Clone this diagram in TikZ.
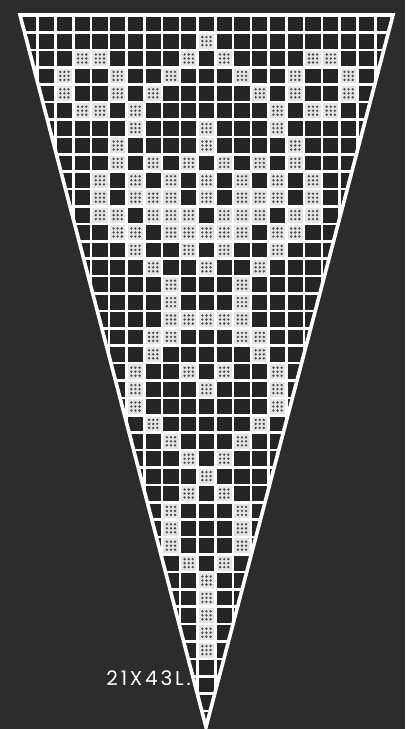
\documentclass[tikz,border=0pt]{standalone}
\usepackage{fontspec}
\newfontfamily\labelfont[LetterSpace=14]{Poppins}
\definecolor{bg}{HTML}{2C2C2C}
\definecolor{cellc}{HTML}{252525}
\definecolor{mesh}{HTML}{E4E4E4}
\definecolor{dotc}{HTML}{4A4A4A}
\newcommand{\cw}{17.76}
\newcommand{\rh}{17.4}
\newcommand{\lcell}[2]{%
  \pgfmathsetmacro{\xa}{20+\cw*#1}%
  \pgfmathsetmacro{\ya}{15+\rh*#2}%
  \fill[mesh] (\xa,\ya) rectangle ++(\cw,\rh);
  \foreach \i in {0.27,0.5,0.73}{\foreach \j in {0.27,0.5,0.73}{%
    \fill[dotc] ({\xa+\cw*\i},{\ya+\rh*\j}) circle (1.3pt);}}%
}
\begin{document}
\begin{tikzpicture}[x=1pt,y=-1pt,
  gridline/.style={white,line width=2.6pt},
  edge/.style={white,line width=3.6pt,line join=miter},
  lbl/.style={text=white,font=\labelfont\fontsize{20}{20}\selectfont,inner sep=0pt}]
\fill[bg] (0,0) rectangle (405,729);
\coordinate (TL) at (20,15);
\coordinate (TR) at (393,15);
\coordinate (AP) at (206,727);
\begin{scope}
  \clip (TL) -- (TR) -- (AP) -- cycle;
  \fill[cellc] (TL) -- (TR) -- (AP) -- cycle;
  \foreach \c/\r in {10/1, 3/2,4/2,9/2, 2/3,5/3,8/3, 2/4,5/4,7/4, 3/5,4/5,6/5,
     6/6,10/6, 5/7,10/7, 5/8,7/8,9/8, 4/9,6/9,8/9,10/9,
     4/10,6/10,7/10,8/10,10/10, 4/11,5/11,7/11,8/11,9/11,
     5/12,6/12,8/12,9/12,10/12, 6/13,9/13, 7/14,10/14, 8/15, 8/16,
     8/17,9/17,10/17, 7/18,8/18, 7/19, 6/20,9/20, 6/21,10/21, 6/22,
     7/23, 8/24, 9/25, 10/26, 9/27, 8/28, 8/29, 8/30, 9/31, 10/32,
     10/33, 10/34, 10/35, 10/36}{%
    \lcell{\c}{\r}%
    \pgfmathtruncatemacro{\m}{20-\c}%
    \ifnum\m=\c\relax\else\lcell{\m}{\r}\fi
  }
  \foreach \c in {1,...,20}{\draw[gridline] ({20+\cw*\c},0) -- ({20+\cw*\c},729);}
  \foreach \r in {1,...,41}{\draw[gridline] (0,{15+\rh*\r}) -- (405,{15+\rh*\r});}
\end{scope}
\draw[edge] (TL) -- (TR) -- (AP) -- cycle;
\node[lbl,anchor=east] (label) at (191,678) {21X43L.};
\end{tikzpicture}
\end{document}
